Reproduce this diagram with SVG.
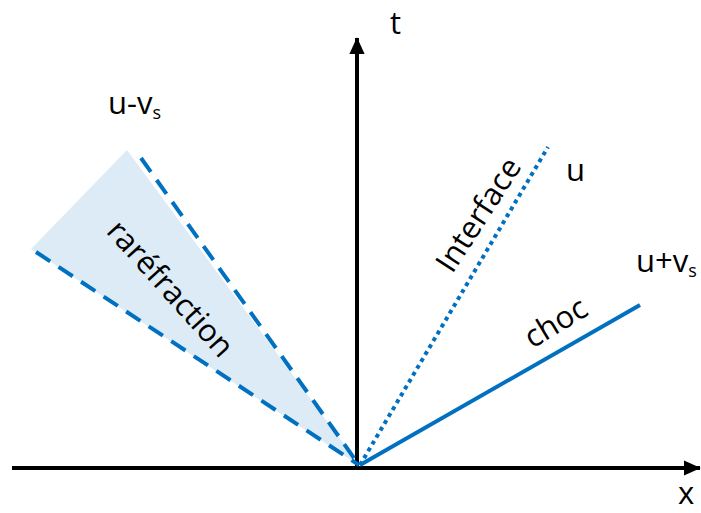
<svg xmlns="http://www.w3.org/2000/svg" width="701" height="513" viewBox="0 0 701 513">
<style>
text{font-family:"Open Sans","Noto Sans","Liberation Sans",sans-serif;fill:#000;font-size:31px}
.ax{stroke:#000;stroke-width:4;fill:none}
.blue{stroke:#0070C0;stroke-width:4;fill:none}
</style>
<defs>
<marker id="ah" markerWidth="4.2" markerHeight="4" refX="4" refY="1.9" orient="auto" markerUnits="strokeWidth">
<path d="M0,0 L4.2,1.9 L0,3.8 Z" fill="#000"/>
</marker>
</defs>
<g id="rarefaction">
<polygon points="127,150 31,249 360,466" fill="#DDEBF7"/>
</g>
<g id="axes">
<line class="ax" x1="12" y1="468" x2="700" y2="468" marker-end="url(#ah)"/>
<line class="ax" x1="357" y1="468" x2="357" y2="38" marker-end="url(#ah)"/>
</g>
<g id="connectors">
<line class="blue" x1="141" y1="158" x2="359" y2="465" stroke-dasharray="17,10"/>
<line class="blue" x1="36" y1="252" x2="359" y2="465" stroke-dasharray="17,10"/>
<line class="blue" x1="360" y1="465" x2="548" y2="147" stroke-dasharray="4,4"/>
<line class="blue" x1="360" y1="465" x2="640" y2="305"/>
</g>
<g id="labels">
<text x="390" y="34" font-size="29">t</text>
<text x="678" y="504" font-size="26">x</text>
<text x="108" y="114" font-size="28">u-v<tspan font-size="18" dy="5">s</tspan></text>
<text x="566" y="181" font-size="28">u</text>
<text x="636" y="272" font-size="28">u+v<tspan font-size="18" dy="5">s</tspan></text>
<text transform="translate(479,215) rotate(-57)" text-anchor="middle" dy="10">Interface</text>
<text transform="translate(556,323) rotate(-31)" text-anchor="middle" dy="10">choc</text>
<text transform="translate(170,289) rotate(48)" text-anchor="middle" dy="10">raréfraction</text>
</g>
</svg>
